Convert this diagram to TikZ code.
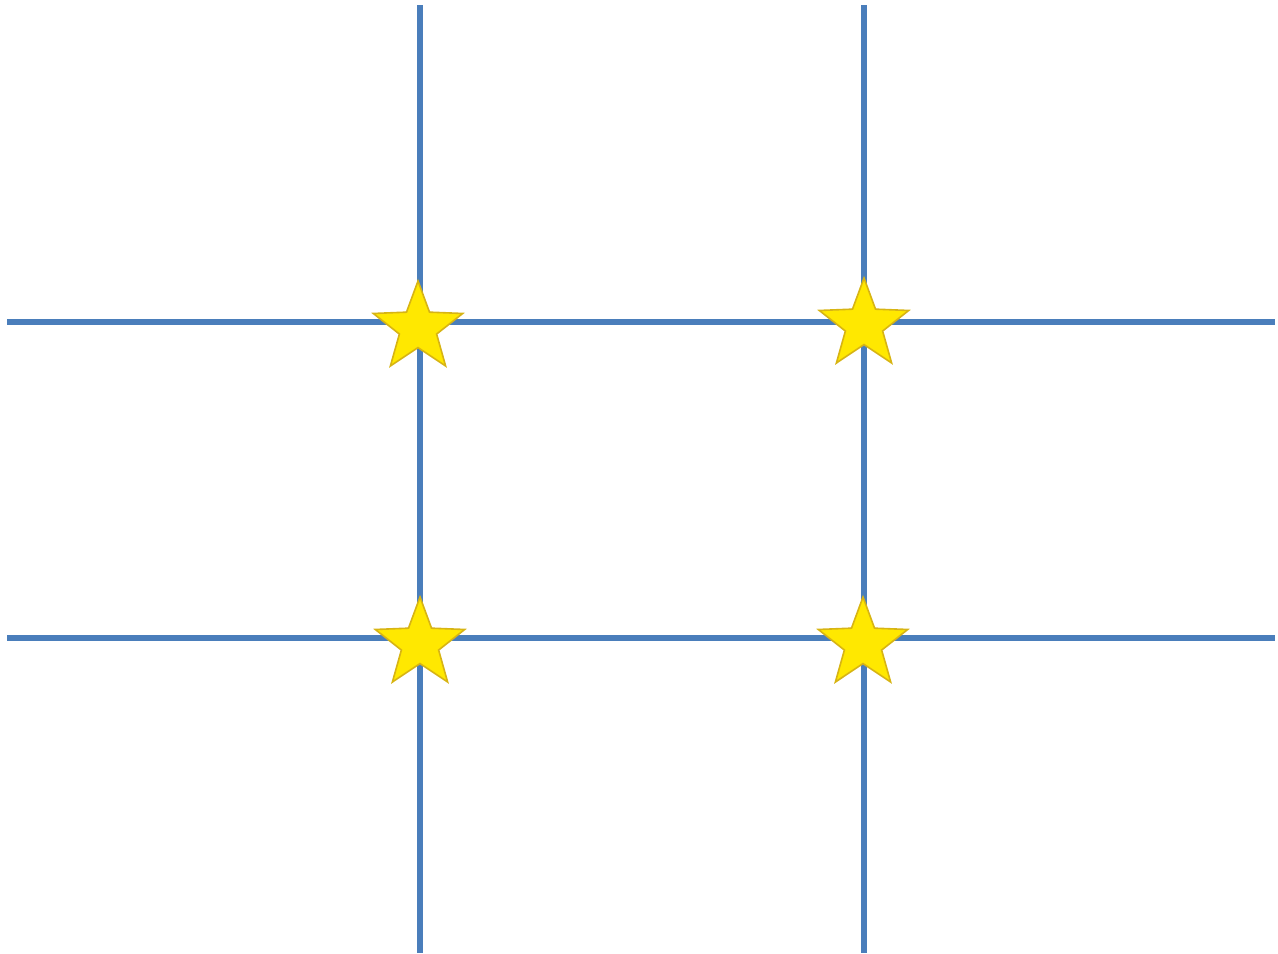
\documentclass[tikz,border=0pt]{standalone}
\usepackage{tikz}
\definecolor{gridblue}{RGB}{74,126,187}
\definecolor{staryellow}{RGB}{255,232,0}
\definecolor{staredge}{RGB}{215,180,20}
\usetikzlibrary{shapes.geometric}

\begin{document}
\begin{tikzpicture}[x=0.5pt,y=-0.5pt,
  gridline/.style={gridblue,line width=3.3pt},
  thirdstar/.style={star,star points=5,star point ratio=2.4,minimum size=47pt,
    inner sep=0pt,fill=staryellow,draw=staredge,line width=0.8pt}]
  \useasboundingbox (0,0) rectangle (1278,953);
  % ends of the grid lines
  \coordinate (vl top) at (420,5);
  \coordinate (vl bot) at (420,953);
  \coordinate (vr top) at (864,5);
  \coordinate (vr bot) at (864,953);
  \coordinate (hu left) at (7,322);
  \coordinate (hu right) at (1275,322);
  \coordinate (hd left) at (7,638);
  \coordinate (hd right) at (1275,638);
  % grid
  \draw[gridline] (vl top) -- (vl bot);
  \draw[gridline] (vr top) -- (vr bot);
  \draw[gridline] (hu left) -- (hu right);
  \draw[gridline] (hd left) -- (hd right);
  % stars on the crossings
  \node[thirdstar] (star ul) at (418,328) {};
  \node[thirdstar] (star ur) at (864,325) {};
  \node[thirdstar] (star dl) at (420,644) {};
  \node[thirdstar] (star dr) at (863,644) {};
\end{tikzpicture}
\end{document}
